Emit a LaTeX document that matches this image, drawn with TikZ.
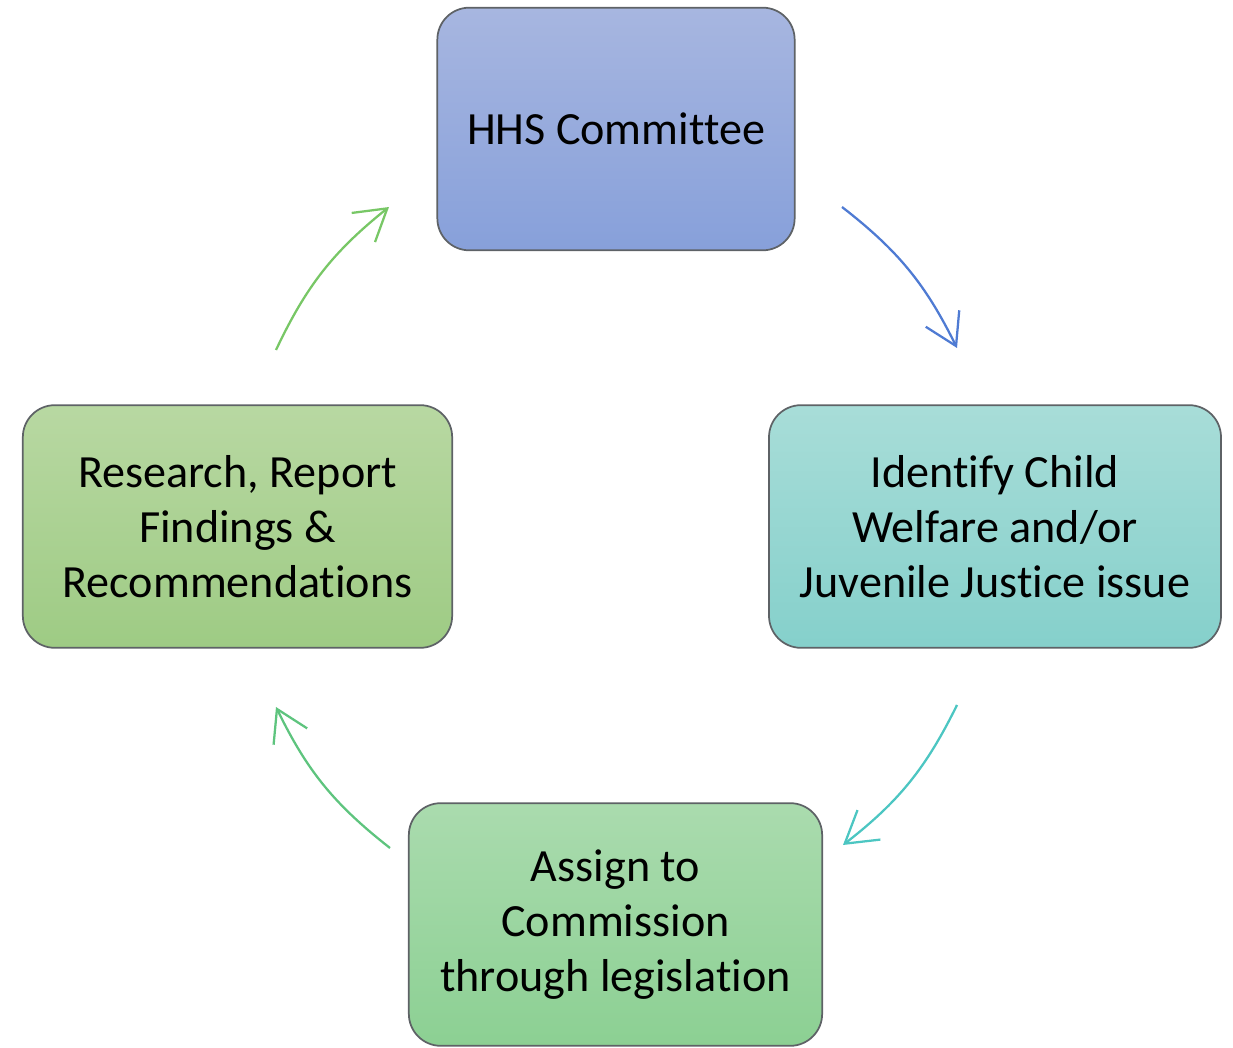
\documentclass[tikz,border=0pt]{standalone}
\usepackage{fontspec}
\setmainfont{Carlito}[Ligatures=NoCommon]
\usetikzlibrary{arrows.meta}
\definecolor{bluetop}{HTML}{A7B6E0}
\definecolor{bluebot}{HTML}{87A0DA}
\definecolor{tealtop}{HTML}{A8DDD8}
\definecolor{tealbot}{HTML}{85D0CB}
\definecolor{olivetop}{HTML}{B8D8A2}
\definecolor{olivebot}{HTML}{9ECB84}
\definecolor{greentop}{HTML}{AADBAE}
\definecolor{greenbot}{HTML}{8CD093}
\definecolor{arrblue}{HTML}{4F7BD3}
\definecolor{arrteal}{HTML}{4CC6C2}
\definecolor{arrgreenA}{HTML}{5EC47E}
\definecolor{arrgreenB}{HTML}{78C766}
\definecolor{boxline}{HTML}{5E6266}
\tikzset{
  box/.style={draw=boxline, line width=1.3pt, rounded corners=24pt, align=center,
    font=\fontsize{34.6}{41}\selectfont, inner sep=0pt, minimum height=182pt},
  flow/.style={line width=1.7pt, -{Straight Barb[length=23pt,width=28pt,line width=1.7pt]}, bend left=13},
}
\begin{document}
\begin{tikzpicture}[x=0.75pt,y=-0.75pt]
\useasboundingbox (0,0) rectangle (1233,1048);
\node[box, top color=bluetop, bottom color=bluebot, minimum width=268pt] (hhs) at (616,129) {HHS Committee};
\node[box, top color=tealtop, bottom color=tealbot, minimum width=339pt] (idf) at (995,526.5) {Identify Child\\Welfare and/or\\Juvenile Justice issue};
\node[box, top color=olivetop, bottom color=olivebot, minimum width=322pt] (res) at (237.5,526.5) {Research, Report\\Findings \&\\Recommendations};
\node[box, top color=greentop, bottom color=greenbot, minimum width=310pt] (asg) at (615.5,924.5) {Assign to\\Commission\\through legislation};
\coordinate (a1s) at (842,207);
\coordinate (a1e) at (957,348);
\coordinate (a2s) at (957,705);
\coordinate (a2e) at (843,845);
\coordinate (a3s) at (390,848);
\coordinate (a3e) at (276,707);
\coordinate (a4s) at (276,350);
\coordinate (a4e) at (389,207);
\draw[flow, arrblue] (a1s) to (a1e);
\draw[flow, arrteal] (a2s) to (a2e);
\draw[flow, arrgreenA] (a3s) to (a3e);
\draw[flow, arrgreenB] (a4s) to (a4e);
\end{tikzpicture}
\end{document}
